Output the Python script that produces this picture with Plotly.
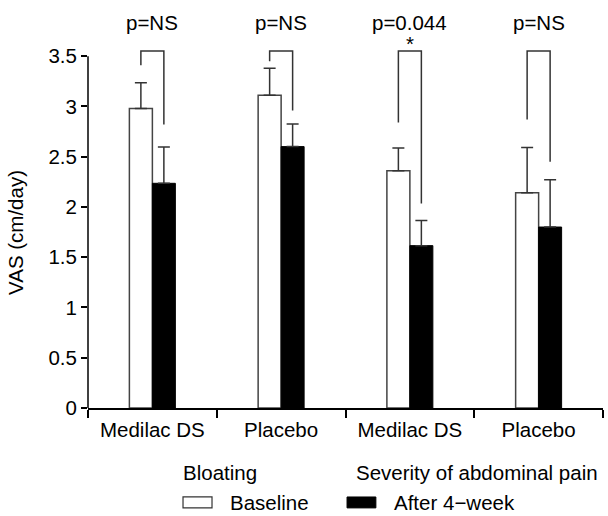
import plotly.graph_objects as go

categories = ["Medilac DS", "Placebo", "Medilac DS ", "Placebo "]
tick_text = ["Medilac DS", "Placebo", "Medilac DS", "Placebo"]
baseline = [2.98, 3.11, 2.36, 2.14]
baseline_err = [0.255, 0.27, 0.225, 0.45]
after = [2.235, 2.60, 1.615, 1.80]
after_err = [0.36, 0.225, 0.25, 0.47]
p_labels = ["p=NS", "p=NS", "p=0.044", "p=NS"]
sig_marks = ["", "", "*", ""]
bracket_top = [3.55, 3.55, 3.55, 3.55]
bracket_left_end = [3.41, 3.45, 2.84, 2.87]
bracket_right_end = [2.82, 2.96, 2.035, 2.45]
group_labels = ["Bloating", "Severity of abdominal pain"]
group_centers = [0.5, 2.5]
y_ticks = [0, 0.5, 1, 1.5, 2, 2.5, 3, 3.5]
y_tick_text = ["0", "0.5", "1", "1.5", "2", "2.5", "3", "3.5"]

FONT = "Arial, Liberation Sans, sans-serif"
FS = 20.5
BARGAP = 0.643
Y_MAX = 3.75
P_LABEL_Y = 3.83
SIG_Y = 3.63
half = (1 - BARGAP) / 4  # offset of each bar centre from category centre

fig = go.Figure()
fig.add_trace(go.Bar(
    x=categories, y=baseline, name="Baseline",
    marker=dict(color="white", line=dict(color="#444444", width=1.5)),
    error_y=dict(type="data", symmetric=False, array=baseline_err,
                 arrayminus=[0] * 4, color="#333333", thickness=1.5, width=6),
))
fig.add_trace(go.Bar(
    x=categories, y=after, name="After 4\u2212week",
    marker=dict(color="black", line=dict(color="black", width=1)),
    error_y=dict(type="data", symmetric=False, array=after_err,
                 arrayminus=[0] * 4, color="#333333", thickness=1.5, width=6),
))

shapes = []
annotations = []
for i in range(len(categories)):
    xl = i - half
    xr = i + half
    path = f"M {xl},{bracket_left_end[i]} L {xl},{bracket_top[i]} L {xr},{bracket_top[i]} L {xr},{bracket_right_end[i]}"
    shapes.append(dict(type="path", path=path, xref="x", yref="y",
                       line=dict(color="#333333", width=1.5)))
    annotations.append(dict(x=i, y=P_LABEL_Y / Y_MAX, xref="x", yref="paper", text=p_labels[i],
                            showarrow=False, font=dict(family=FONT, size=FS, color="black"),
                            xanchor="center", yanchor="middle"))
    if sig_marks[i]:
        annotations.append(dict(x=i, y=SIG_Y, xref="x", yref="y", text=sig_marks[i],
                                showarrow=False, font=dict(family=FONT, size=FS, color="black"),
                                xanchor="center", yanchor="middle"))

for lab, xc in zip(group_labels, group_centers):
    annotations.append(dict(x=xc, y=-0.17, xref="x", yref="paper", text=lab,
                            showarrow=False, xshift=3,
                            font=dict(family=FONT, size=FS, color="black"),
                            xanchor="center", yanchor="middle"))

# y axis title
annotations.append(dict(x=-0.142, y=1.75, xref="paper", yref="y", text="VAS (cm/day)",
                        textangle=-90, showarrow=False, xanchor="center", yanchor="middle",
                        font=dict(family=FONT, size=FS, color="black")))

# y axis line (0 to 3.5 only)
shapes.append(dict(type="line", xref="paper", yref="paper", x0=0, x1=0,
                   y0=0, y1=3.5 / Y_MAX, line=dict(color="black", width=1.5)))

# manual legend
shapes.append(dict(type="rect", xref="paper", yref="paper", x0=0.1845, x1=0.2408,
                   y0=-0.265, y1=-0.236, fillcolor="white",
                   line=dict(color="#333333", width=1.2)))
shapes.append(dict(type="rect", xref="paper", yref="paper", x0=0.503, x1=0.559,
                   y0=-0.265, y1=-0.236, fillcolor="black",
                   line=dict(color="black", width=1)))
annotations.append(dict(x=0.272, y=-0.25, xref="paper", yref="paper", text="Baseline",
                        xanchor="left", yanchor="middle", showarrow=False,
                        font=dict(family=FONT, size=FS, color="black")))
annotations.append(dict(x=0.590, y=-0.25, xref="paper", yref="paper", text="After 4\u2212week",
                        xanchor="left", yanchor="middle", showarrow=False,
                        font=dict(family=FONT, size=FS, color="black")))

fig.update_layout(
    width=608, height=516,
    margin=dict(l=88, r=5, t=31, b=108),
    paper_bgcolor="white", plot_bgcolor="white",
    barmode="group", bargap=BARGAP, bargroupgap=0,
    showlegend=False,
    font=dict(family=FONT, size=FS, color="black"),
    shapes=shapes, annotations=annotations,
    xaxis=dict(type="category", tickmode="array", tickvals=categories, ticktext=tick_text,
               tickson="boundaries", ticks="outside", ticklen=8, tickwidth=1.5,
               tickcolor="black", showline=True, linecolor="black", linewidth=1.5,
               showgrid=False, zeroline=False, ticklabelstandoff=3,
               tickfont=dict(family=FONT, size=FS)),
    yaxis=dict(range=[0, Y_MAX], tickmode="array", tickvals=y_ticks, ticktext=y_tick_text,
               ticks="outside", ticklen=6, tickwidth=1.5, tickcolor="black",
               showline=False, showgrid=False, zeroline=False,
               tickfont=dict(family=FONT, size=FS)),
)

fig.write_html("out.html")
